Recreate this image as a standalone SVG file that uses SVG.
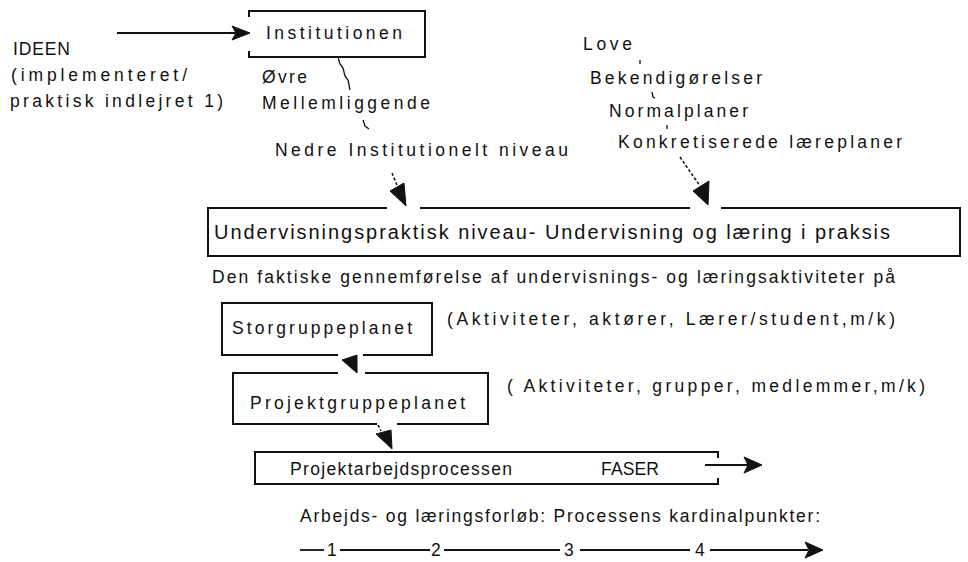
<svg xmlns="http://www.w3.org/2000/svg" width="968" height="562" viewBox="0 0 968 562">
<style>
text{font-family:"Liberation Sans","DejaVu Sans",sans-serif;font-size:17.5px;fill:#111}
.big{font-size:20px}
.box{fill:none;stroke:#111;stroke-width:2}
.ln{fill:none;stroke:#111;stroke-width:1.8}
.thin{fill:none;stroke:#111;stroke-width:1.3}
.dash{fill:none;stroke:#111;stroke-width:1.5;stroke-dasharray:3 2}
.head{fill:#111;stroke:#111;stroke-width:1;stroke-linejoin:round}
</style>
<rect width="968" height="562" fill="#fff"/>

<g id="ideen">
<text x="13" y="55" textLength="57" lengthAdjust="spacing">IDEEN</text>
<text x="11" y="81" textLength="176" lengthAdjust="spacing">(implementeret/</text>
<text x="10" y="107" textLength="213" lengthAdjust="spacing">praktisk indlejret 1)</text>
</g>

<g id="institutionen">
<path class="box" d="M249,17 V11 H425 V57 H249 V51"/>
<text x="266" y="39" textLength="136" lengthAdjust="spacing">Institutionen</text>
</g>

<g id="niveauer">
<text x="262" y="83" textLength="45" lengthAdjust="spacing">Øvre</text>
<text x="262" y="109" textLength="168" lengthAdjust="spacing">Mellemliggende</text>
<text x="275" y="156" textLength="293" lengthAdjust="spacing">Nedre  Institutionelt niveau</text>
</g>

<g id="regler">
<text x="583" y="50" textLength="49" lengthAdjust="spacing">Love</text>
<text x="590" y="84" textLength="172" lengthAdjust="spacing">Bekendigørelser</text>
<text x="609" y="117" textLength="139" lengthAdjust="spacing">Normalplaner</text>
<text x="618" y="148" textLength="284" lengthAdjust="spacing">Konkretiserede læreplaner</text>
</g>

<g id="undervisning">
<path class="box" d="M387,208 H208 V256 H960 V208 H721 M690,208 H420"/>
<text class="big" x="214" y="239" textLength="676" lengthAdjust="spacing">Undervisningspraktisk niveau- Undervisning og læring i praksis</text>
<text x="212" y="283" textLength="683" lengthAdjust="spacing">Den faktiske gennemførelse af undervisnings- og læringsaktiviteter på</text>
</g>

<g id="storgruppe">
<path class="box" d="M338,355 H222 V303 H432 V355 H363"/>
<text x="232" y="334" textLength="180" lengthAdjust="spacing">Storgruppeplanet</text>
<text x="447" y="325" textLength="448" lengthAdjust="spacing">(Aktiviteter, aktører, Lærer/student,m/k)</text>
</g>

<g id="projektgruppe">
<path class="box" d="M338,373 H233 V424 H377 M397,424 H488 V373 H365"/>
<text x="250" y="409" textLength="215" lengthAdjust="spacing">Projektgruppeplanet</text>
<text x="507" y="392" textLength="418" lengthAdjust="spacing">( Aktiviteter, grupper, medlemmer,m/k)</text>
</g>

<g id="projektarbejde">
<path class="box" d="M718,458 V452 H255 V484 H718 V478"/>
<text x="290" y="475" textLength="222" lengthAdjust="spacing">Projektarbejdsprocessen</text>
<text x="601" y="475" textLength="58" lengthAdjust="spacing">FASER</text>
</g>

<g id="forloeb">
<text x="300" y="522" textLength="520" lengthAdjust="spacing">Arbejds- og læringsforløb: Processens kardinalpunkter:</text>
<text x="327" y="556" textLength="9" lengthAdjust="spacing">1</text>
<text x="431" y="556" textLength="11" lengthAdjust="spacing">2</text>
<text x="564" y="556" textLength="11" lengthAdjust="spacing">3</text>
<text x="695" y="556" textLength="12" lengthAdjust="spacing">4</text>
</g>

<g id="connectors">
<!-- IDEEN -> Institutionen -->
<line class="ln" x1="117" y1="33" x2="236" y2="33"/>
<polygon class="head" points="232,26 250,33 232,40 236,33"/>
<!-- Institutionen -> Mellemliggende -> Nedre -->
<polyline class="thin" points="338,57 340,64 343,68 345,76 348,80 350,90"/>
<polyline class="thin" points="363,120 365,126 369,129"/>
<!-- Nedre -> Undervisning -->
<path class="dash" d="M392,173 L397,185"/>
<polygon class="head" points="390,191 404,183 406,206"/>
<!-- regler dots -->
<line class="thin" x1="640" y1="60" x2="640" y2="64"/>
<polyline class="thin" points="652,92 653,97 655,98"/>
<line class="thin" x1="667" y1="125" x2="667" y2="129"/>
<!-- Konkretiserede -> Undervisning -->
<path class="dash" d="M680,157 L700,186"/>
<polygon class="head" points="693,191 709,181 708,205"/>
<!-- Storgruppe -> Projektgruppe -->
<polygon class="head" points="342,360 357,355 357,373"/>
<!-- Projektgruppe -> Projektarbejde -->
<path class="dash" d="M378,425 L381,431"/>
<polygon class="head" points="376,434 391,430 392,449"/>
<!-- FASER arrow -->
<line class="ln" x1="705" y1="465" x2="748" y2="465"/>
<polygon class="head" points="744,457 762,465 744,473 748,465"/>
<!-- kardinalpunkter -->
<line class="ln" x1="300" y1="550" x2="324" y2="550"/>
<line class="ln" x1="340" y1="550" x2="430" y2="550"/>
<line class="ln" x1="444" y1="550" x2="560" y2="550"/>
<line class="ln" x1="580" y1="550" x2="690" y2="550"/>
<line class="ln" x1="710" y1="550" x2="808" y2="550"/>
<polygon class="head" points="805,542 823,550 805,558 809,550"/>
</g>
</svg>
